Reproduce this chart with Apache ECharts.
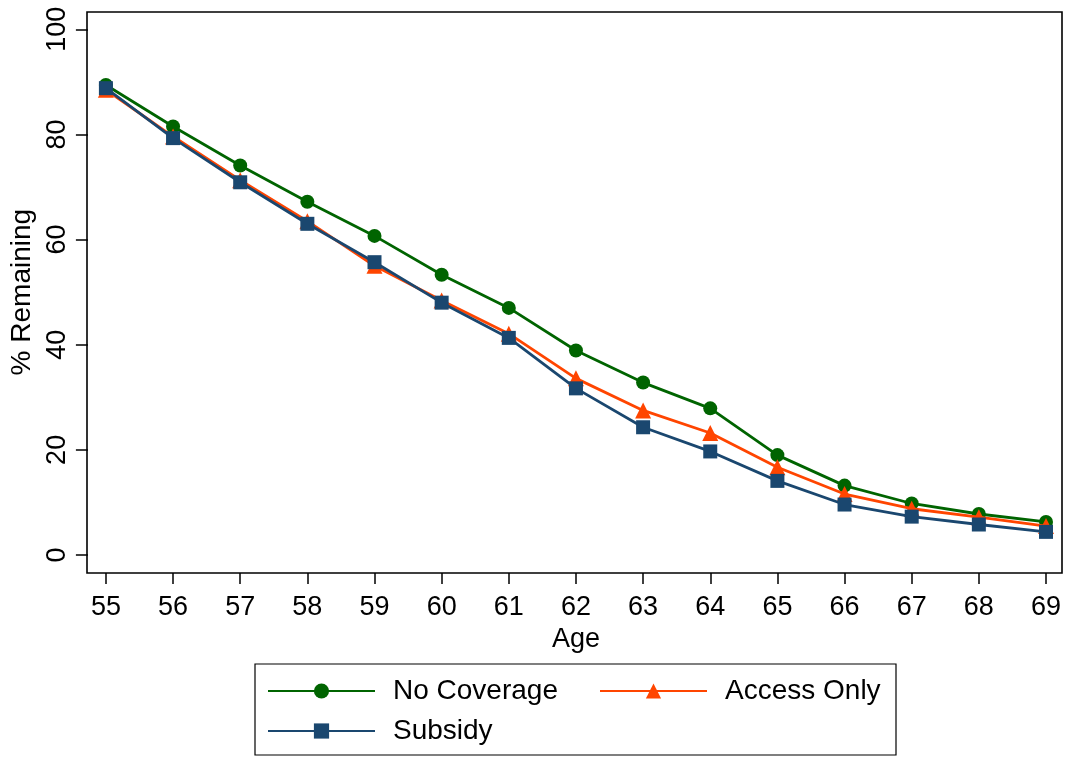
<!DOCTYPE html>
<html>
<head>
<meta charset="utf-8">
<script src="https://cdn.jsdelivr.net/npm/echarts@6/dist/echarts.min.js"></script>
<style>html,body{margin:0;padding:0;background:#fff;}#c{width:1065px;height:757px;}</style>
</head>
<body>
<div id="c"></div>
<script>
const ages = [55, 56, 57, 58, 59, 60, 61, 62, 63, 64, 65, 66, 67, 68, 69];
const noCoverage = [89.4, 81.5, 74.1, 67.2, 60.7, 53.3, 47.0, 38.9, 32.8, 27.9, 19.0, 13.2, 9.8, 7.8, 6.3];
const accessOnly = [88.5, 79.6, 71.3, 63.5, 55.0, 48.4, 42.1, 33.6, 27.5, 23.2, 16.7, 11.6, 8.8, 7.2, 5.5];
const subsidy = [88.8, 79.3, 70.9, 63.0, 55.7, 48.0, 41.3, 31.7, 24.3, 19.7, 14.1, 9.6, 7.3, 5.8, 4.4];
const yTicks = [0, 20, 40, 60, 80, 100];

const FONT = 'Liberation Sans, Arial, sans-serif';
const GREEN = '#006400', ORANGE = '#ff4500', NAVY = '#1a476f';

function pts(vals) { return ages.map((a, i) => [a, vals[i]]); }

const chart = echarts.init(document.getElementById('c'), null, {renderer: 'canvas'});
chart.setOption({
  backgroundColor: '#ffffff',
  animation: false,
  grid: {left: 105, right: 19, top: 29.3, bottom: 202, containLabel: false},
  xAxis: {
    type: 'value', min: 55, max: 69, interval: 1, offset: 18,
    axisLine: {show: false, onZero: false},
    axisTick: {show: true, inside: false, length: 11, lineStyle: {color: '#000', width: 1.5}},
    axisLabel: {fontSize: 27, color: '#000', fontFamily: FONT, margin: 21, formatter: v => String(v)},
    splitLine: {show: false},
    name: 'Age', nameLocation: 'middle', nameGap: 45,
    nameTextStyle: {fontSize: 27, color: '#000', fontFamily: FONT}
  },
  yAxis: {
    type: 'value', min: yTicks[0], max: yTicks[yTicks.length - 1], interval: 20, offset: 18,
    axisLine: {show: false, onZero: false},
    axisTick: {show: true, inside: false, length: 12, lineStyle: {color: '#000', width: 1.5}},
    axisLabel: {fontSize: 27, color: '#000', fontFamily: FONT, margin: 17, rotate: 90},
    splitLine: {show: false},
    name: '% Remaining', nameLocation: 'middle', nameGap: 45,
    nameTextStyle: {fontSize: 28, color: '#000', fontFamily: FONT}
  },
  legend: [
    {
      data: ['No Coverage', 'Subsidy'], orient: 'vertical', left: 267, top: 677, padding: 0,
      itemWidth: 107, itemHeight: 19, itemGap: 12, selectedMode: false,
      textStyle: {fontSize: 28, color: '#000', fontFamily: FONT, padding: [0, 0, 0, 13]}
    },
    {
      data: ['Access Only'], orient: 'vertical', left: 599, top: 677, padding: 0,
      itemWidth: 107, itemHeight: 19, itemGap: 12, selectedMode: false,
      textStyle: {fontSize: 28, color: '#000', fontFamily: FONT, padding: [0, 0, 0, 13]}
    }
  ],
  graphic: [
    {type: 'rect', shape: {x: 87, y: 12, width: 975, height: 561}, style: {fill: null, stroke: '#000', lineWidth: 1.6}, z: 0, silent: true},
    {type: 'rect', shape: {x: 255, y: 664, width: 641, height: 91}, style: {fill: null, stroke: '#000', lineWidth: 1.2}, z: 0, silent: true}
  ],
  series: [
    {
      name: 'No Coverage', type: 'line', data: pts(noCoverage), clip: false,
      symbol: 'circle', symbolSize: 14,
      lineStyle: {color: GREEN, width: 2.8}, itemStyle: {color: GREEN}, z: 2
    },
    {
      name: 'Access Only', type: 'line', data: pts(accessOnly), clip: false,
      symbol: 'triangle', symbolSize: 16,
      lineStyle: {color: ORANGE, width: 2.8}, itemStyle: {color: ORANGE}, z: 3
    },
    {
      name: 'Subsidy', type: 'line', data: pts(subsidy), clip: false,
      symbol: 'rect', symbolSize: 14,
      lineStyle: {color: NAVY, width: 2.8}, itemStyle: {color: NAVY}, z: 4
    }
  ]
});
</script>
</body>
</html>
